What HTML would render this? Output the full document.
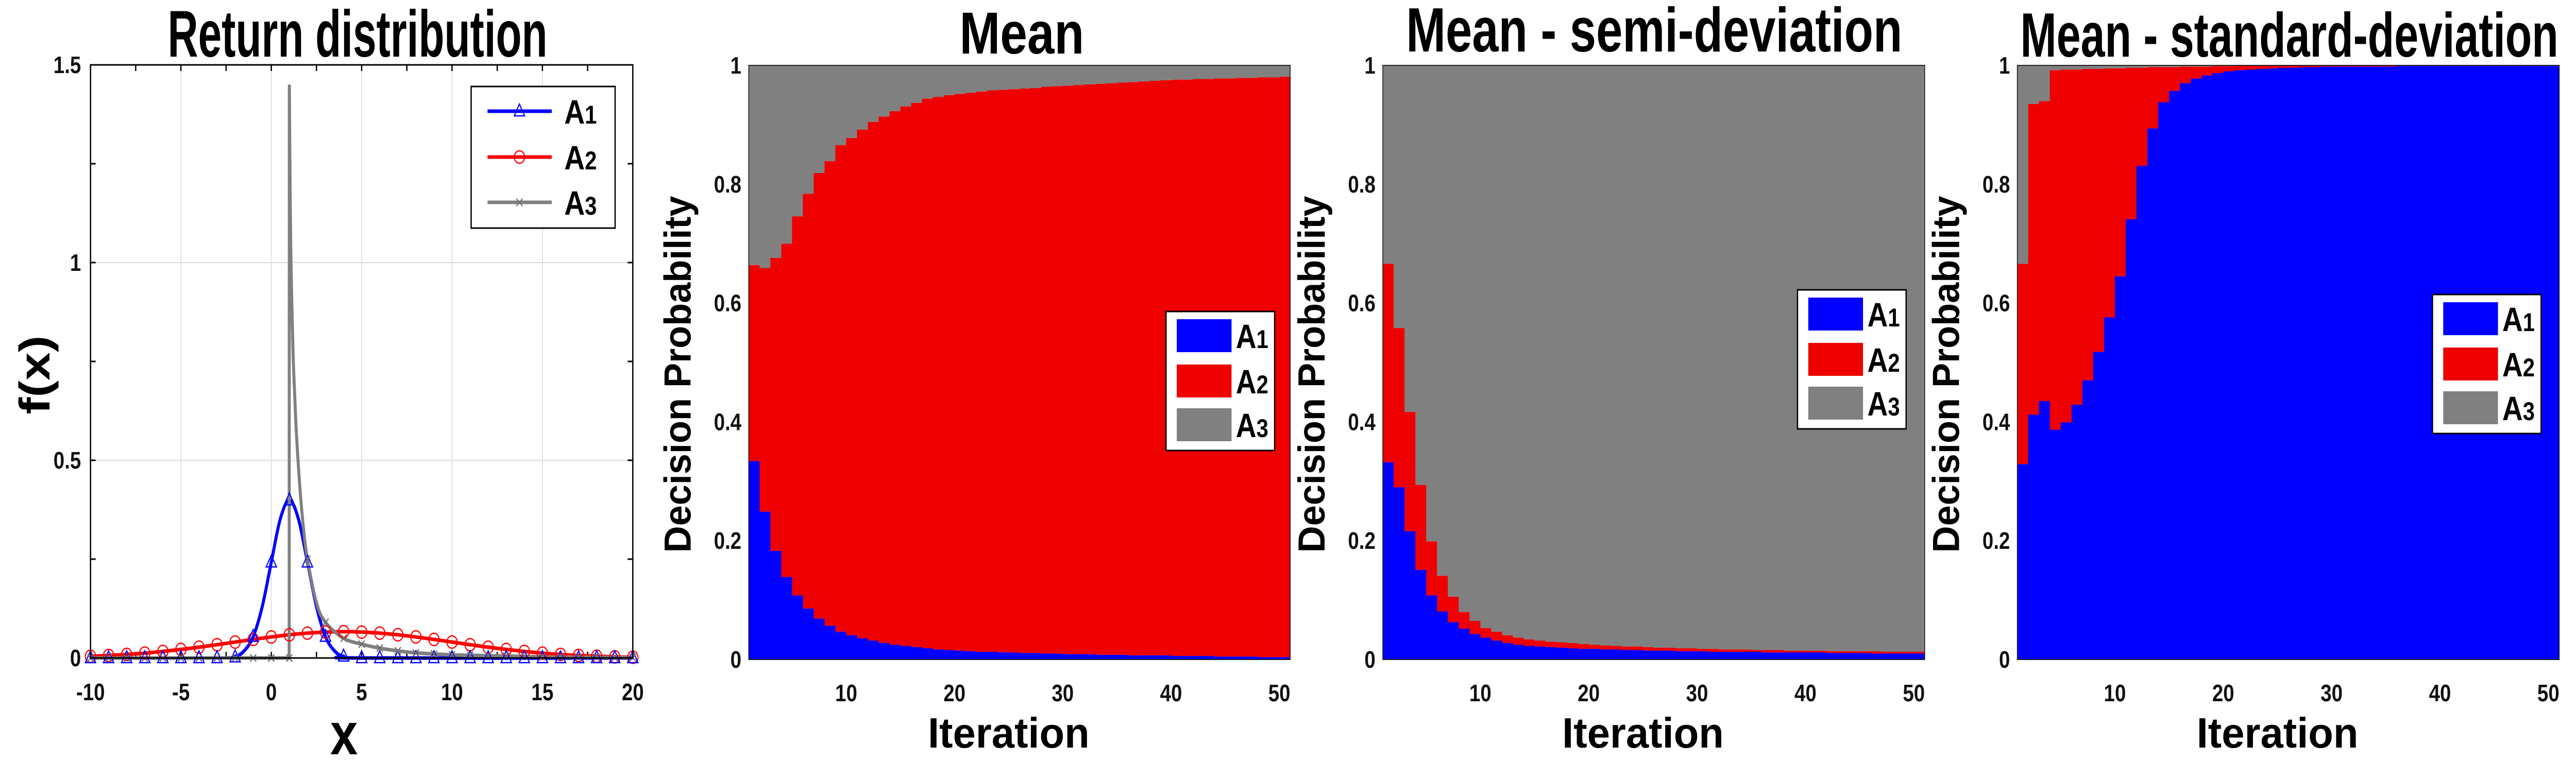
<!DOCTYPE html>
<html><head><meta charset="utf-8"><style>
html,body{margin:0;padding:0;background:#fff;overflow:hidden;width:100%;height:100%;}
svg{display:block;font-family:"Liberation Sans",sans-serif;width:100vw;height:100vh;}
</style></head><body>
<svg id="fig" viewBox="0 0 5976 1480" preserveAspectRatio="none" xmlns="http://www.w3.org/2000/svg"></svg>
<script>
// ---------- Panel 1 data: return distributions ----------
const markerX = [-10,-9,-8,-7,-6,-5,-4,-3,-2,-1,0,1,2,3,4,5,6,7,8,9,10,11,12,13,14,15,16,17,18,19,20];
const a1Markers = [0,0,0,0,0,0,0,0,0.002,0.054,0.242,0.399,0.242,0.054,0.004,0,0,0,0,0,0,0,0,0,0,0,0,0,0,0,0];
const a2Markers = [0.0044,0.0064,0.009,0.0122,0.0166,0.0216,0.0273,0.0336,0.0403,0.047,0.0532,0.0587,0.0629,0.0656,0.0665,0.0656,0.0629,0.0587,0.0532,0.047,0.0403,0.0336,0.0273,0.0216,0.0166,0.0122,0.009,0.0064,0.0044,0.0029,0.0019];
const a3Markers = [0,0,0,0,0,0,0,0,0,0,0,0,0.25,0.09,0.05,0.035,0.025,0.018,0.013,0.01,0.008,0.007,0.006,0.005,0.004,0.003,0.003,0.002,0.002,0.001,0.001];
const a1LineX = [-10,-3,-2,-1.5,-1,-0.5,0,0.5,1,1.5,2,2.5,3,3.5,4,5,20];
const a1LineY = [0,0,0.004,0.018,0.054,0.13,0.242,0.352,0.399,0.352,0.242,0.13,0.054,0.018,0.004,0,0];
const a3LineX = [-10,0.99,1,1.05,1.1,1.2,1.3,1.4,1.6,1.8,2,2.5,3,4,5,6,7,8,10,12,15,20];
const a3LineY = [0,0,1.45,1.15,0.98,0.78,0.66,0.56,0.42,0.32,0.25,0.14,0.09,0.05,0.035,0.025,0.018,0.013,0.008,0.006,0.003,0.001];
const p1XTicks = [-10,-5,0,5,10,15,20];
const p1YTicks = [0,0.5,1,1.5];
const p1YTickLabels = ["0","0.5","1","1.5"];

// ---------- Stacked decision probability data (iterations 1..50) ----------
const iterations = Array.from({length:50},(_,i)=>i+1);
const meanA1 = [0.334,0.249,0.183,0.139,0.108,0.086,0.069,0.057,0.047,0.041,0.036,0.032,0.028,0.025,0.023,0.021,0.019,0.017,0.016,0.015,0.014,0.013,0.013,0.012,0.012,0.011,0.011,0.010,0.010,0.009,0.009,0.009,0.008,0.008,0.008,0.007,0.007,0.007,0.007,0.006,0.006,0.006,0.006,0.005,0.005,0.005,0.005,0.004,0.004,0.004];
const meanA2 = [0.330,0.410,0.493,0.561,0.638,0.698,0.750,0.782,0.819,0.837,0.856,0.873,0.886,0.898,0.908,0.916,0.925,0.930,0.934,0.937,0.940,0.943,0.945,0.947,0.948,0.950,0.951,0.954,0.955,0.957,0.958,0.959,0.961,0.962,0.963,0.965,0.966,0.967,0.968,0.970,0.970,0.971,0.971,0.973,0.973,0.974,0.974,0.976,0.976,0.977];
const semiA1 = [0.332,0.290,0.216,0.151,0.108,0.081,0.063,0.052,0.043,0.037,0.032,0.028,0.025,0.023,0.022,0.021,0.020,0.019,0.018,0.018,0.017,0.017,0.016,0.016,0.015,0.015,0.015,0.014,0.014,0.014,0.013,0.013,0.013,0.013,0.013,0.012,0.012,0.012,0.012,0.012,0.012,0.011,0.011,0.011,0.011,0.010,0.010,0.010,0.010,0.010];
const semiA2 = [0.334,0.268,0.201,0.143,0.091,0.060,0.043,0.028,0.022,0.016,0.015,0.013,0.012,0.011,0.010,0.009,0.009,0.009,0.008,0.007,0.007,0.006,0.006,0.006,0.006,0.005,0.005,0.005,0.005,0.004,0.005,0.004,0.004,0.004,0.003,0.004,0.004,0.003,0.003,0.003,0.003,0.003,0.003,0.003,0.003,0.004,0.003,0.003,0.003,0.003];
const stdA1 = [0.329,0.412,0.435,0.387,0.399,0.429,0.470,0.518,0.576,0.645,0.741,0.831,0.894,0.938,0.957,0.970,0.978,0.983,0.987,0.990,0.992,0.993,0.994,0.995,0.996,0.996,0.997,0.997,0.998,0.998,0.998,0.998,0.998,0.998,0.998,0.999,0.999,0.999,0.999,0.999,0.999,0.999,0.999,0.999,0.999,0.999,0.999,0.999,0.999,0.999];
const stdA2 = [0.337,0.523,0.505,0.605,0.594,0.564,0.524,0.476,0.419,0.350,0.255,0.165,0.103,0.059,0.040,0.028,0.020,0.015,0.012,0.009,0.008,0.007,0.006,0.005,0.004,0.004,0.003,0.003,0.002,0.002,0.002,0.002,0.002,0.002,0.002,0.001,0.001,0.001,0.001,0.001,0.001,0.001,0.001,0.001,0.001,0.001,0.001,0.001,0.001,0.001];
const barXTicks = [10,20,30,40,50];
const barYTicks = [0,0.2,0.4,0.6,0.8,1];
const barYTickLabels = ["0","0.2","0.4","0.6","0.8","1"];

const NS = "http://www.w3.org/2000/svg";
const svg = document.getElementById('fig');
function mk(tag, attrs, parent){ const e=document.createElementNS(NS,tag); for(const k in attrs) e.setAttribute(k,attrs[k]); (parent||svg).appendChild(e); return e; }
function catmull(pts){
  let d = "M"+pts[0][0]+","+pts[0][1];
  for(let i=0;i<pts.length-1;i++){
    const p0=pts[Math.max(0,i-1)], p1=pts[i], p2=pts[i+1], p3=pts[Math.min(pts.length-1,i+2)];
    const c1=[p1[0]+(p2[0]-p0[0])/6, p1[1]+(p2[1]-p0[1])/6];
    const c2=[p2[0]-(p3[0]-p1[0])/6, p2[1]-(p3[1]-p1[1])/6];
    d+=" C"+c1[0]+","+c1[1]+" "+c2[0]+","+c2[1]+" "+p2[0]+","+p2[1];
  }
  return d;
}
function legendLabel(parent, x, y, n, size){
  const t = mk('text',{x:x,y:y,'font-size':size,'font-weight':'bold',fill:'#000'},parent);
  
  
  t.appendChild(document.createTextNode('A'));
  const ts = mk('tspan',{'font-size':Math.round(size*0.75)},t);
  ts.textContent = String(n);
  return t;
}

// ================= Panel 1 =================
(function(){
  const L=210,R=1468,T=126,B=1278;
  const xs = v => L + (v+10)/30*(R-L);
  const ys = v => B - v/1.5*(B-T);
  const g = mk('g',{});
  
  
  p1XTicks.slice(1,-1).forEach(v=>{
    const l=mk('line',{x1:xs(v),x2:xs(v),y1:T,y2:B,stroke:'#dcdcdc','stroke-width':2},g);
    
    
  });
  [0.5,1].forEach(v=>{
    const l=mk('line',{x1:L,x2:R,y1:ys(v),y2:ys(v),stroke:'#dcdcdc','stroke-width':2},g);
    
    
  });
  for(let v=0; v<=1.5001; v+=0.25){
    mk('line',{x1:L,x2:L+12,y1:ys(v),y2:ys(v),stroke:'#000','stroke-width':3},g);
    mk('line',{x1:R,x2:R-12,y1:ys(v),y2:ys(v),stroke:'#000','stroke-width':3},g);
  }
  for(let v=-10; v<=20; v+=2.5){
    mk('line',{x1:xs(v),x2:xs(v),y1:B,y2:B-12,stroke:'#000','stroke-width':3},g);
    mk('line',{x1:xs(v),x2:xs(v),y1:T,y2:T+12,stroke:'#000','stroke-width':3},g);
  }
  const s2 = mk('path',{d:catmull(markerX.map((x,i)=>[xs(x),ys(a2Markers[i])])),fill:'none',stroke:'#ff0000','stroke-width':7},g);
  
  
  const s1 = mk('path',{d:catmull(a1LineX.map((x,i)=>[xs(x),ys(a1LineY[i])])),fill:'none',stroke:'#0000ff','stroke-width':7},g);
  
  
  const s3pts = a3LineX.map((x,i)=>[xs(x),ys(a3LineY[i])]);
  const s3 = mk('path',{d:"M"+s3pts.slice(0,3).map(p=>p.join(',')).join(' L')+" "+catmull(s3pts.slice(2)).replace(/^M/,'L'),fill:'none',stroke:'#808080','stroke-width':7},g);
  
  
  markerX.forEach((x,i)=>{
    const cx=xs(x);
    const c=mk('circle',{cx:cx,cy:ys(a2Markers[i]),r:12,fill:'none',stroke:'#ff0000','stroke-width':2.5},g);
    
    
    const y1=ys(a1Markers[i]);
    const t=mk('path',{d:`M${cx},${y1-14} L${cx+12},${y1+9} L${cx-12},${y1+9} Z`,fill:'none',stroke:'#0000ff','stroke-width':2.5},g);
    
    
    const y3=ys(a3Markers[i]);
    const m=mk('path',{d:`M${cx-7},${y3-7} L${cx+7},${y3+7} M${cx-7},${y3+7} L${cx+7},${y3-7}`,stroke:'#707070','stroke-width':2.5},g);
    
    
  });
  const fr=mk('rect',{x:L,y:T,width:R-L,height:B-T,fill:'none',stroke:'#000','stroke-width':3},g);
  
  
  p1XTicks.forEach(v=>{
    const t=mk('text',{x:xs(v),y:1360,'text-anchor':'middle','font-size':46,'font-weight':'bold',fill:'#111'},g);
    
    
    t.textContent=String(v);
  });
  p1YTicks.forEach((v,i)=>{
    const t=mk('text',{x:188,y:ys(v)+16,'text-anchor':'end','font-size':46,'font-weight':'bold',fill:'#111'},g);
    
    
    t.textContent=p1YTickLabels[i];
  });
  const lg=mk('g',{},g);
  
  
  mk('rect',{x:1093,y:168,width:334,height:275,fill:'#fff',stroke:'#000','stroke-width':3},lg);
  const cols=['#0000ff','#ff0000','#808080'], rows=[216,305,393];
  rows.forEach((y,i)=>{
    const e=mk('g',{},lg);
    
    
    mk('line',{x1:1131,x2:1280,y1:y,y2:y,stroke:cols[i],'stroke-width':7},e);
    if(i===0) mk('path',{d:`M1205,${y-14} L1217,${y+9} L1193,${y+9} Z`,fill:'none',stroke:cols[i],'stroke-width':2.5},e);
    if(i===1) mk('circle',{cx:1205,cy:y,r:12,fill:'none',stroke:cols[i],'stroke-width':2.5},e);
    if(i===2) mk('path',{d:`M1198,${y-7} L1212,${y+7} M1198,${y+7} L1212,${y-7}`,stroke:'#707070','stroke-width':2.5},e);
    legendLabel(e,1309,y+24,i+1,66);
  });
  const ti=mk('text',{x:389,y:110,'font-size':128,'font-weight':'bold',textLength:881,lengthAdjust:'spacingAndGlyphs'},g);
  
  
  ti.textContent='Return distribution';
  const xl=mk('text',{x:798,y:1465,'text-anchor':'middle','font-size':115,'font-weight':'bold'},g);
  
  
  xl.textContent='x';
  const yl=mk('text',{x:0,y:0,'text-anchor':'middle','font-size':100,'font-weight':'bold',transform:'translate(115,728) rotate(-90)',textLength:153,lengthAdjust:'spacingAndGlyphs'},g);
  
  
  yl.textContent='f(x)';
})();

// ================= Stacked panels =================
function stackedPanel(cfg){
  const {L,R,name,title,tx1,tx2,tb,tfs,legX,legY,a1,a2}=cfg;
  const T=127,B=1281;
  const xs = v => L + (v-1)/50*(R-L);
  const ys = v => B - v*(B-T);
  const g=mk('g',{});
  
  
  iterations.forEach((it,i)=>{
    const x0=xs(it), w=xs(it+1)-x0+0.6;
    const v1=a1[i], v2=a2[i], v3=Math.max(0,1-v1-v2);
    const r1=mk('rect',{x:x0,y:ys(v1),width:w,height:ys(0)-ys(v1),fill:'#0000ff'},g);
    
    
    const r2=mk('rect',{x:x0,y:ys(v1+v2),width:w,height:ys(v1)-ys(v1+v2),fill:'#ee0000'},g);
    
    
    const r3=mk('rect',{x:x0,y:ys(v1+v2+v3),width:w,height:ys(v1+v2)-ys(v1+v2+v3),fill:'#808080'},g);
    
    
  });
  const fr=mk('rect',{x:L,y:T,width:R-L,height:B-T,fill:'none',stroke:'#222','stroke-width':2},g);
  
  
  barXTicks.forEach(v=>{
    const t=mk('text',{x:xs(v),y:1362,'text-anchor':'middle','font-size':46,'font-weight':'bold',fill:'#111'},g);
    
    
    t.textContent=String(v);
  });
  barYTicks.forEach((v,i)=>{
    const t=mk('text',{x:L-17,y:ys(v)+16,'text-anchor':'end','font-size':46,'font-weight':'bold',fill:'#111'},g);
    
    
    t.textContent=barYTickLabels[i];
  });
  const lg=mk('g',{},g);
  
  
  mk('rect',{x:legX,y:legY,width:252,height:270,fill:'#fff',stroke:'#000','stroke-width':3},lg);
  const cols=['#0000ff','#ee0000','#808080'], offs=[47,135,220];
  offs.forEach((o,i)=>{
    const e=mk('g',{},lg);
    
    
    mk('rect',{x:legX+25,y:legY+o-32,width:127,height:64,fill:cols[i]},e);
    legendLabel(e,legX+162,legY+o+24,i+1,66);
  });
  const ti=mk('text',{x:tx1,y:tb,'font-size':tfs,'font-weight':'bold',textLength:tx2-tx1,lengthAdjust:'spacingAndGlyphs'},g);
  
  
  ti.textContent=title;
  const xl=mk('text',{x:(L+R)/2-25,y:1452,'text-anchor':'middle','font-size':83,'font-weight':'bold',textLength:375,lengthAdjust:'spacingAndGlyphs'},g);
  
  
  xl.textContent='Iteration';
  const yl=mk('text',{x:0,y:0,'text-anchor':'middle','font-size':88,'font-weight':'bold',transform:`translate(${L-135},727) rotate(-90)`,textLength:693,lengthAdjust:'spacingAndGlyphs'},g);
  
  
  yl.textContent='Decision Probability';
}
stackedPanel({L:1737,R:2993,name:'mean',title:'Mean',tx1:2226,tx2:2515,tb:104,tfs:115,legX:2705,legY:605,a1:meanA1,a2:meanA2});
stackedPanel({L:3208,R:4465,name:'mean-semi-deviation',title:'Mean - semi-deviation',tx1:3262,tx2:4413,tb:100,tfs:122,legX:4170,legY:563,a1:semiA1,a2:semiA2});
stackedPanel({L:4680,R:5937,name:'mean-standard-deviation',title:'Mean - standard-deviation',tx1:4687,tx2:5935,tb:110,tfs:122,legX:5643,legY:572,a1:stdA1,a2:stdA2});
</script>
</body></html>
